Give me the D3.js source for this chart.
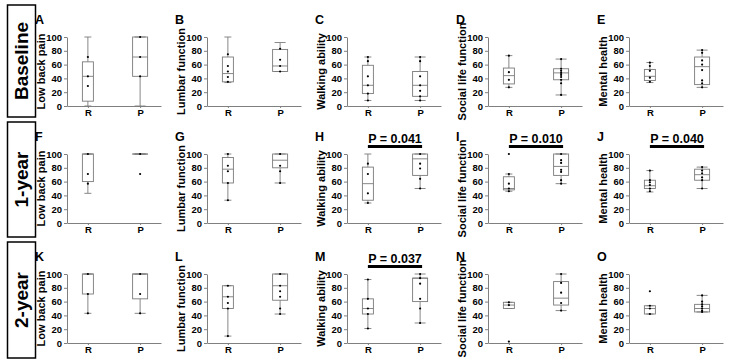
<!DOCTYPE html>
<html>
<head>
<meta charset="utf-8">
<script src="https://d3js.org/d3.v7.min.js"></script>
<style>
    body { margin: 0; background: #fff; }
    svg { font-family: "Liberation Sans", Arial, sans-serif; }
    .axis path, .axis line { stroke: #808080; stroke-width: 1; fill: none; }
    .axis text { fill: #000; font-weight: bold; font-size: 9.5px; }
    .title { font-weight: bold; font-size: 11px; }
    .letter { font-weight: bold; font-size: 12.5px; }
    .rowlab { font-weight: bold; font-size: 19px; }
    .pval { font-weight: bold; font-size: 12.5px; }
</style>
</head>
<body>
<div id="vis_container"></div>
<script>
    var rows = ["Baseline", "1-year", "2-year"];
    var letters = ["A","B","C","D","E","F","G","H","I","J","K","L","M","N","O"];
    var measures = ["Low back pain", "Lumbar function", "Walking ability", "Social life function", "Mental health"];
    var groups = ["R", "P"];
    var yTicks = [0, 20, 40, 60, 80, 100];

    // [whisker low, q1, median, q3, whisker high] for each panel A..O
    var boxR = [
        [0, 7, 43, 64, 100], [34, 35, 47, 71, 100], [8, 18, 30, 59, 71], [27, 32, 44, 55, 73], [34, 37, 43, 53, 63],
        [43, 60, 100, 100, 100], [33, 58, 78, 95, 100], [29, 33, 57, 81, 100], [46, 48, 50, 67, 71], [45, 50, 54, 62, 76],
        [43, 71, 100, 100, 100], [10, 50, 67, 83, 83], [21, 42, 50, 64, 92], [50, 50, 55, 59, 59], [42, 42, 50, 54, 54]
    ];
    var boxP = [
        [0, 43, 71, 100, 100], [50, 50, 58, 82, 92], [8, 14, 30, 50, 71], [16, 38, 48, 54, 68], [27, 31, 57, 71, 81],
        [100, 100, 100, 100, 100], [58, 80, 91, 100, 100], [50, 69, 93, 100, 100], [57, 69, 82, 100, 100], [50, 62, 70, 78, 81],
        [43, 64, 100, 100, 100], [42, 62, 83, 100, 100], [29, 60, 94, 94, 100], [47, 55, 65, 89, 100], [45, 45, 50, 56, 69]
    ];
    // individual points drawn over the boxes
    var dotsR = [
        [71, 43, 29], [75, 58, 50, 42, 35], [71, 65, 43, 30, 18, 8], [73, 49, 38, 27], [63, 58, 51, 41, 35],
        [100, 71, 57], [100, 83, 75, 58, 33], [86, 71, 43, 29], [100, 71, 57, 50, 46], [76, 62, 59, 55, 50, 46],
        [100, 71, 43], [83, 67, 58, 50, 10], [92, 64, 50, 42, 21], [59, 55, 2], [75, 54, 50, 42]
    ];
    var dotsP = [
        [100, 71, 43], [83, 67, 58, 50], [71, 65, 43, 30, 22, 14, 8], [68, 54, 51, 48, 45, 42, 38, 33, 16], [81, 77, 66, 60, 52, 37, 33, 27],
        [100, 71], [100, 83, 75, 58], [100, 86, 79, 64, 50], [100, 91, 87, 77, 74, 62, 57], [81, 76, 72, 66, 62, 50],
        [100, 71, 43], [100, 83, 75, 67, 50, 42], [100, 94, 86, 64, 50, 29], [100, 87, 73, 58, 47], [69, 60, 56, 53, 50, 47, 45]
    ];
    var pValues = [null, null, null, null, null,
        null, null, "P = 0.041", "P = 0.010", "P = 0.040",
        null, null, "P = 0.037", null, null];

    var width = 731, height = 364;
    var colX = [67, 207, 347, 488, 629];
    var rowY0 = [106, 223, 343];
    var plotH = 69;
    var rowBox = [[5, 117], [122, 237], [242, 358]];
    var boxW = [11, 15], capW = [7, 11];

    var svg = d3.select("#vis_container").append("svg")
        .attr("width", width).attr("height", height);

    // row labels in boxes
    rows.forEach(function(r, i) {
        var b = rowBox[i];
        svg.append("rect").attr("x", 7.5).attr("y", b[0]).attr("width", 28).attr("height", b[1] - b[0])
            .attr("fill", "none").attr("stroke", "#000").attr("stroke-width", 1.5);
        svg.append("text").attr("class", "rowlab")
            .attr("transform", "translate(28," + ((b[0] + b[1]) / 2) + ") rotate(-90)")
            .attr("text-anchor", "middle").text(r);
    });

    var x = d3.scalePoint().domain(groups).range([0, 94]).padding(0.4);

    letters.forEach(function(letter, k) {
        var row = Math.floor(k / 5), col = k % 5;
        var g = svg.append("g").attr("transform", "translate(" + colX[col] + ",0)");
        var y = d3.scaleLinear().domain([0, 100]).range([rowY0[row], rowY0[row] - plotH]);

        g.append("g").attr("class", "axis")
            .call(d3.axisLeft(y).tickValues(yTicks).tickSize(3).tickSizeOuter(0).tickPadding(2));
        g.append("g").attr("class", "axis")
            .attr("transform", "translate(0," + rowY0[row] + ")")
            .call(d3.axisBottom(x).tickSize(2).tickSizeOuter(0).tickPadding(1));

        g.append("text").attr("class", "letter").attr("x", -32).attr("y", y(100) - 13).text(letter);
        g.append("text").attr("class", "title")
            .attr("transform", "translate(-22," + (y(50)) + ") rotate(-90)")
            .attr("text-anchor", "middle").text(measures[col]);

        [boxR[k], boxP[k]].forEach(function(s, gi) {
            var cx = x(groups[gi]), bw = boxW[gi], cw = capW[gi];
            var bg = g.append("g").attr("stroke", "#7a7a7a").attr("stroke-width", 0.9).attr("fill", "none");
            bg.append("line").attr("x1", cx).attr("x2", cx).attr("y1", y(s[0])).attr("y2", y(s[1]));
            bg.append("line").attr("x1", cx).attr("x2", cx).attr("y1", y(s[3])).attr("y2", y(s[4]));
            bg.append("line").attr("x1", cx - cw / 2).attr("x2", cx + cw / 2).attr("y1", y(s[0])).attr("y2", y(s[0]));
            bg.append("line").attr("x1", cx - cw / 2).attr("x2", cx + cw / 2).attr("y1", y(s[4])).attr("y2", y(s[4]));
            bg.append("rect").attr("x", cx - bw / 2).attr("width", bw)
                .attr("y", y(s[3])).attr("height", Math.max(0.1, y(s[1]) - y(s[3])));
            bg.append("line").attr("x1", cx - bw / 2).attr("x2", cx + bw / 2).attr("y1", y(s[2])).attr("y2", y(s[2]));

            var pts = gi === 0 ? dotsR[k] : dotsP[k];
            g.selectAll(null).data(pts).enter().append("circle")
                .attr("cx", cx).attr("cy", function(d) { return y(d); })
                .attr("r", 1.1).attr("fill", "#000");
        });

        if (pValues[k]) {
            var yb = y(100) - 7.5;
            g.append("line").attr("x1", x("R")).attr("x2", x("P") + 2).attr("y1", yb).attr("y2", yb)
                .attr("stroke", "#000").attr("stroke-width", 3);
            g.append("text").attr("class", "pval").attr("x", (x("R") + x("P")) / 2 + 1).attr("y", y(100) - 11)
                .attr("text-anchor", "middle").text(pValues[k]);
        }
    });
</script>
</body>
</html>
